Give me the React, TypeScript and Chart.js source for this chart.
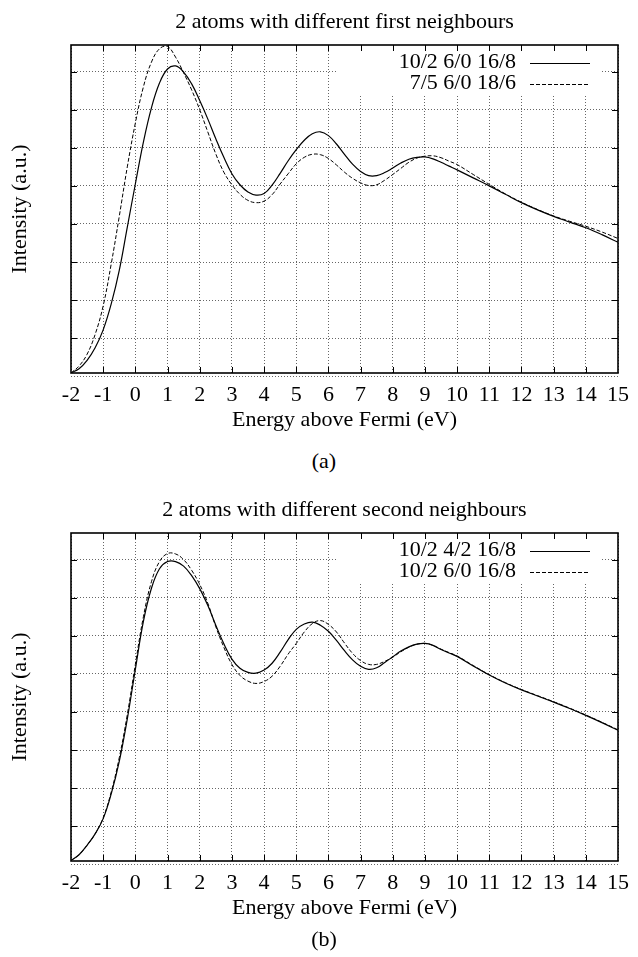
import React, { useEffect, useRef } from "react";
import { Chart, registerables } from "chart.js";

Chart.register(...registerables);

// ---------- data ----------
const energy = [
  -2, -1.75, -1.5, -1.25, -1, -0.75, -0.5, -0.25, 0, 0.25, 0.5, 0.75, 1, 1.25, 1.5, 1.75,
  2, 2.25, 2.5, 2.75, 3, 3.25, 3.5, 3.75, 4, 4.25, 4.5, 4.75, 5, 5.25, 5.5, 5.75,
  6, 6.25, 6.5, 6.75, 7, 7.25, 7.5, 7.75, 8, 8.25, 8.5, 8.75, 9, 9.25, 9.5, 9.75,
  10, 10.5, 11, 11.5, 12, 12.5, 13, 13.5, 14, 14.5, 15,
];

// (a) first neighbours
const firstSolid = [
  0.09, 0.2, 0.42, 0.75, 1.22, 1.9, 2.78, 3.92, 5.05, 6.15, 7.05, 7.7, 8.07, 8.15, 7.99, 7.68,
  7.24, 6.76, 6.24, 5.75, 5.32, 5.03, 4.84, 4.76, 4.8, 5.02, 5.33, 5.66, 5.95, 6.2, 6.37, 6.42,
  6.32, 6.1, 5.83, 5.57, 5.38, 5.27, 5.27, 5.35, 5.47, 5.6, 5.7, 5.75, 5.76, 5.71, 5.62, 5.52,
  5.42, 5.21, 5.0, 4.78, 4.56, 4.37, 4.2, 4.05, 3.9, 3.72, 3.52,
];
const firstDashed = [
  0.09, 0.27, 0.58, 1.1, 1.85, 2.95, 4.2, 5.5, 6.65, 7.6, 8.25, 8.6, 8.66, 8.38, 7.97, 7.52,
  7.0, 6.42, 5.84, 5.36, 5.03, 4.78, 4.62, 4.56, 4.6, 4.77, 5.05, 5.32, 5.58, 5.75, 5.83, 5.82,
  5.72, 5.55, 5.36, 5.2, 5.08, 5.01, 5.03, 5.15, 5.3, 5.46, 5.62, 5.73, 5.78, 5.79, 5.74, 5.65,
  5.56, 5.3, 5.04, 4.79, 4.57, 4.38, 4.21, 4.07, 3.94, 3.79, 3.62,
];

// (b) second neighbours
const secondSolid = [
  0.1, 0.25, 0.5, 0.8, 1.2, 1.85, 2.7, 3.82, 5.12, 6.38, 7.25, 7.76, 7.95, 7.95, 7.83, 7.58,
  7.24, 6.8, 6.28, 5.79, 5.39, 5.15, 5.04, 5.02, 5.1, 5.28, 5.57, 5.9, 6.17, 6.31, 6.36, 6.28,
  6.12, 5.88, 5.61, 5.37, 5.2, 5.12, 5.16, 5.3, 5.45, 5.6, 5.71, 5.78, 5.8, 5.75, 5.64, 5.55,
  5.46, 5.21, 4.97, 4.76, 4.58, 4.42, 4.26, 4.09, 3.91, 3.72, 3.52,
];
const secondDashed = [
  0.1, 0.25, 0.5, 0.8, 1.22, 1.9, 2.8, 3.93, 5.25, 6.5, 7.42, 7.95, 8.16, 8.15, 8.0, 7.72,
  7.35, 6.86, 6.24, 5.7, 5.25, 4.96, 4.81, 4.75, 4.8, 4.94, 5.2, 5.52, 5.8, 6.1, 6.32, 6.4,
  6.3, 6.1, 5.81, 5.54, 5.35, 5.25, 5.25, 5.33, 5.44, 5.58, 5.7, 5.78, 5.8, 5.75, 5.65, 5.56,
  5.47, 5.22, 4.98, 4.77, 4.59, 4.43, 4.27, 4.1, 3.92, 3.73, 3.53,
];

const titles = ["2 atoms with different first neighbours", "2 atoms with different second neighbours"];
const seriesLabels = [
  ["10/2 6/0 16/8", "7/5 6/0 18/6"],
  ["10/2 4/2 16/8", "10/2 6/0 16/8"],
];
const captions = ["(a)", "(b)"];
const xLabel = "Energy above Fermi (eV)";
const yLabel = "Intensity (a.u.)";
const xMin = -2;
const xMax = 15;
const yMin = 0.087;
const yMax = 8.7;

// ---------- styling ----------
const FONT = '"Liberation Serif", "Times New Roman", Times, serif';
const FS = 22;
const GRID = "rgba(0,0,0,0.6)";

const framePlugin = {
  id: "gnuplotFrame",
  beforeDatasetsDraw(chart: any) {
    const { ctx, chartArea: a } = chart;
    ctx.save();
    ctx.fillStyle = "#fff";
    ctx.fillRect(a.right - 281, a.top, 265, 50);
    ctx.restore();
  },
  afterDatasetsDraw(chart: any) {
    const { ctx, chartArea: a, scales } = chart;
    const x = scales.x;
    const y = scales.y;
    const line = (x1: number, y1: number, x2: number, y2: number) => {
      ctx.beginPath();
      ctx.moveTo(x1, y1);
      ctx.lineTo(x2, y2);
      ctx.stroke();
    };
    ctx.save();
    // key
    ctx.font = `${FS}px ${FONT}`;
    ctx.textAlign = "right";
    ctx.textBaseline = "middle";
    ctx.fillStyle = "#000";
    chart.data.datasets.forEach((ds: any, i: number) => {
      const ly = a.top + 17.5 + i * 21;
      ctx.fillText(ds.label, a.right - 102, ly);
      ctx.setLineDash(ds.borderDash || []);
      ctx.lineWidth = ds.borderWidth;
      ctx.strokeStyle = ds.borderColor;
      line(a.right - 88, Math.round(ly) + 0.5, a.right - 28, Math.round(ly) + 0.5);
    });
    ctx.setLineDash([]);
    // ticks (inward, mirrored)
    ctx.strokeStyle = "#000";
    ctx.lineWidth = 1;
    x.ticks.forEach((t: any) => {
      const px = Math.round(x.getPixelForValue(t.value)) + 0.5;
      if (px <= a.left + 1 || px >= a.right - 1) return;
      line(px, a.bottom, px, a.bottom - 6);
      line(px, a.top, px, a.top + 6);
    });
    y.ticks.forEach((t: any) => {
      const py = Math.round(y.getPixelForValue(t.value)) + 0.5;
      line(a.left, py, a.left + 6, py);
      line(a.right, py, a.right - 6, py);
    });
    // border
    ctx.lineWidth = 1.6;
    ctx.strokeRect(a.left, a.top, a.right - a.left, a.bottom - a.top);
    // zero grid line, just below the frame
    const z = Math.round(y.getPixelForValue(0)) + 0.5;
    ctx.lineWidth = 1;
    ctx.strokeStyle = GRID;
    ctx.setLineDash([1, 2]);
    line(a.left, z, a.right, z);
    ctx.restore();
  },
};

function toPoints(vals: number[]) {
  return energy.map((e, i) => ({ x: e, y: vals[i] }));
}

function Panel({ index, solid, dashed }: { index: number; solid: number[]; dashed: number[] }) {
  const ref = useRef<HTMLCanvasElement | null>(null);
  useEffect(() => {
    if (!ref.current) return;
    const font = { family: FONT, size: FS, weight: "normal" as const };
    const chart = new Chart(ref.current, {
      type: "line",
      data: {
        datasets: [
          {
            label: seriesLabels[index][0],
            data: toPoints(solid),
            borderColor: "#000",
            borderWidth: 1.2,
            borderDash: [],
            pointRadius: 0,
            fill: false,
            tension: 0.4,
          },
          {
            label: seriesLabels[index][1],
            data: toPoints(dashed),
            borderColor: "#000",
            borderWidth: 1,
            borderDash: [4, 2],
            pointRadius: 0,
            fill: false,
            tension: 0.4,
          },
        ],
      },
      options: {
        animation: false,
        responsive: false,
        devicePixelRatio: 1,
        layout: { padding: { left: 0, right: 12, top: 0, bottom: 0 } },
        plugins: {
          legend: { display: false },
          tooltip: { enabled: false },
          title: {
            display: true,
            text: titles[index],
            fullSize: false,
            color: "#000",
            font,
            padding: { top: 9, bottom: 9.6 },
          },
        },
        scales: {
          x: {
            type: "linear",
            min: xMin,
            max: xMax,
            ticks: { stepSize: 1, autoSkip: false, maxRotation: 0, color: "#000", font, padding: 9 },
            grid: { color: GRID, lineWidth: 1, drawTicks: false },
            border: { display: false, dash: [1, 2] },
            title: { display: true, text: xLabel, color: "#000", font, padding: { top: 0, bottom: 6.5 } },
            afterFit: (s: any) => {
              s.height = 67;
            },
          },
          y: {
            type: "linear",
            min: yMin,
            max: yMax,
            ticks: { stepSize: 1, includeBounds: false, display: false },
            grid: { color: GRID, lineWidth: 1, drawTicks: false },
            border: { display: false, dash: [1, 2] },
            title: { display: true, text: yLabel, color: "#000", font, padding: { top: 7, bottom: 0 } },
            afterFit: (s: any) => {
              s.width = 71;
            },
          },
        },
      } as any,
      plugins: [framePlugin],
    });
    return () => chart.destroy();
  }, [index, solid, dashed]);
  return <canvas ref={ref} width={638} height={440} style={{ display: "block" }} />;
}

export default function App() {
  const captionStyle: React.CSSProperties = {
    position: "absolute",
    left: 0,
    width: 648,
    textAlign: "center",
    fontFamily: FONT,
    fontSize: FS,
    lineHeight: "26px",
    color: "#000",
  };
  return (
    <div style={{ position: "absolute", left: 0, top: 0, width: 638, height: 957, background: "#fff" }}>
      <div style={{ position: "absolute", left: 0, top: 0 }}>
        <Panel index={0} solid={firstSolid} dashed={firstDashed} />
      </div>
      <div style={{ ...captionStyle, top: 448 }}>{captions[0]}</div>
      <div style={{ position: "absolute", left: 0, top: 488 }}>
        <Panel index={1} solid={secondSolid} dashed={secondDashed} />
      </div>
      <div style={{ ...captionStyle, top: 926 }}>{captions[1]}</div>
    </div>
  );
}
